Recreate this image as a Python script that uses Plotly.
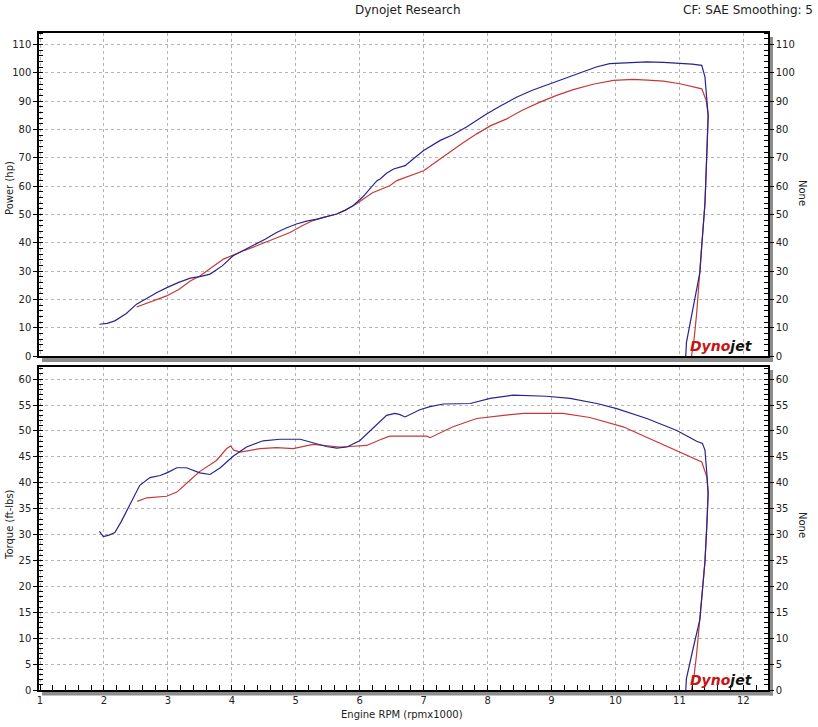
import plotly.graph_objects as go

# ---------------- data ----------------
# Power, run 1 (blue)
rpm_hp_blue = [1.93, 2.05, 2.17, 2.35, 2.51, 2.67, 2.83, 3.00, 3.17, 3.35, 3.50, 3.66, 3.85, 4.02,
               4.18, 4.34, 4.52, 4.70, 4.85, 5.01, 5.17, 5.33, 5.50, 5.64, 5.77, 5.90, 6.05, 6.17,
               6.27, 6.32, 6.42, 6.53, 6.71, 6.85, 7.00, 7.26, 7.45, 7.67, 7.99, 8.20, 8.46, 8.70,
               8.98, 9.20, 9.45, 9.70, 9.91, 10.20, 10.49, 10.75, 11.01, 11.20, 11.35, 11.40, 11.43,
               11.45, 11.43, 11.40, 11.35, 11.32, 11.22, 11.11, 11.10]
hp_blue = [11.2, 11.5, 12.4, 15.0, 18.3, 20.5, 22.4, 24.3, 26.0, 27.5, 28.0, 28.9, 31.8, 35.4,
           37.3, 38.9, 41.2, 43.6, 45.2, 46.6, 47.6, 48.3, 49.2, 50.1, 51.4, 53.1, 56.2, 59.5,
           61.9, 62.5, 64.5, 66.0, 67.2, 69.8, 72.5, 76.1, 78.0, 80.8, 85.5, 88.2, 91.4, 93.8,
           96.1, 98.0, 100.2, 102.0, 103.2, 103.6, 103.8, 103.6, 103.4, 103.0, 102.6, 98.5, 90.2,
           85.0, 72.0, 53.8, 39.0, 29.4, 17.7, 4.7, 0.0]

# Power, run 2 (red)
rpm_hp_red = [2.51, 2.75, 2.98, 3.17, 3.35, 3.50, 3.61, 3.75, 3.87, 4.02, 4.20, 4.39, 4.65, 4.91,
              5.10, 5.27, 5.45, 5.64, 5.80, 5.95, 6.20, 6.47, 6.58, 6.80, 7.00, 7.18, 7.36, 7.60,
              7.83, 8.05, 8.30, 8.55, 8.82, 9.08, 9.34, 9.65, 9.97, 10.28, 10.50, 10.75, 11.01,
              11.20, 11.35, 11.42, 11.45, 11.43, 11.40, 11.35, 11.31, 11.27, 11.23, 11.19]
hp_red = [17.3, 19.4, 21.2, 23.5, 26.5, 28.2, 30.1, 32.3, 34.2, 35.7, 37.3, 38.9, 41.3, 43.6,
          46.0, 47.8, 49.0, 50.1, 51.8, 53.7, 57.6, 60.1, 61.9, 63.6, 65.4, 68.3, 71.3, 75.0,
          78.4, 81.3, 83.7, 86.8, 89.6, 92.0, 94.0, 95.9, 97.3, 97.6, 97.4, 97.0, 96.1,
          95.2, 94.3, 90.2, 85.0, 72.0, 53.8, 39.0, 25.0, 15.0, 6.0, 0.0]

# Torque, run 1 (blue)
rpm_tq_blue = [1.93, 1.99, 2.08, 2.17, 2.27, 2.36, 2.46, 2.56, 2.72, 2.88, 3.00, 3.14, 3.29, 3.40,
               3.50, 3.66, 3.82, 4.02, 4.23, 4.49, 4.75, 5.07, 5.27, 5.48, 5.64, 5.80, 6.00, 6.06,
               6.27, 6.42, 6.55, 6.62, 6.71, 6.94, 7.10, 7.31, 7.73, 8.04, 8.40, 8.65, 8.92, 9.29,
               9.71, 10.02, 10.49, 10.96, 11.27, 11.36, 11.40, 11.43, 11.45, 11.43, 11.40, 11.35,
               11.32, 11.22, 11.11, 11.10]
tq_blue = [30.6, 29.6, 29.9, 30.4, 32.5, 34.6, 37.2, 39.5, 41.0, 41.4, 42.0, 42.9, 42.9, 42.4,
           41.9, 41.6, 42.9, 45.1, 46.9, 48.1, 48.4, 48.4, 47.7, 47.0, 46.7, 46.9, 48.1, 48.8,
           51.4, 53.0, 53.4, 53.2, 52.7, 54.1, 54.7, 55.2, 55.3, 56.3, 56.9, 56.8, 56.7, 56.3,
           55.3, 54.3, 52.4, 50.1, 48.0, 47.6, 46.3, 41.7, 38.0, 32.0, 24.8, 17.8,
           13.6, 8.3, 2.2, 0.0]

# Torque, run 2 (red)
rpm_tq_red = [2.52, 2.67, 2.98, 3.14, 3.32, 3.50, 3.76, 3.92, 3.98, 4.03, 4.13, 4.44, 4.70, 4.96,
              5.27, 5.48, 5.69, 5.85, 6.11, 6.32, 6.47, 7.05, 7.10, 7.46, 7.83, 8.25, 8.56, 9.18,
              9.60, 10.12, 10.59, 11.01, 11.35, 11.43, 11.45, 11.43, 11.40, 11.35, 11.31, 11.27,
              11.23, 11.19]
tq_red = [36.4, 37.1, 37.4, 38.2, 40.2, 42.2, 44.3, 46.6, 47.1, 46.3, 45.9, 46.6, 46.8, 46.6,
          47.4, 47.2, 46.9, 47.0, 47.2, 48.3, 49.0, 49.0, 48.7, 50.8, 52.4, 53.0, 53.4, 53.4,
          52.6, 50.8, 48.2, 45.9, 44.0, 41.1, 38.0, 32.0, 24.8, 17.8, 11.6, 7.0,
          2.8, 0.0]

rpm_ticks = list(range(1, 13))
hp_ticks = list(range(0, 111, 10))
tq_ticks = list(range(0, 61, 5))

# ---------------- styling ----------------
W, H = 818, 727
PL, PR, PT, PB = 39, 768, 33, 690          # plot area in window pixels
ML, MT = PL, PT
MR = W - PR
MB = H - PB
PW = W - ML - MR
PH = H - MT - MB
BLUE = "#26248e"
RED = "#c43a3a"
GRID = "#b4b4b4"
FONT = "DejaVu Sans"
TXT = "#222222"


def px(x):
    return (x - PL) / PW


def py(y):
    return (PB - y) / PH


top_dom = [py(356), 1.0]
bot_dom = [0.0, py(366.7)]
x_range = [0.984, 12.386]

fig = go.Figure()
fig.add_trace(go.Scatter(x=rpm_hp_red, y=hp_red, mode="lines", line=dict(color=RED, width=1.2),
                         xaxis="x2", yaxis="y2", showlegend=False, hoverinfo="skip"))
fig.add_trace(go.Scatter(x=rpm_hp_blue, y=hp_blue, mode="lines", line=dict(color=BLUE, width=1.2),
                         xaxis="x2", yaxis="y2", showlegend=False, hoverinfo="skip"))
fig.add_trace(go.Scatter(x=rpm_tq_red, y=tq_red, mode="lines", line=dict(color=RED, width=1.2),
                         xaxis="x", yaxis="y", showlegend=False, hoverinfo="skip"))
fig.add_trace(go.Scatter(x=rpm_tq_blue, y=tq_blue, mode="lines", line=dict(color=BLUE, width=1.2),
                         xaxis="x", yaxis="y", showlegend=False, hoverinfo="skip"))
# helpers so the right-hand axes are drawn
fig.add_trace(go.Scatter(x=[None], y=[None], xaxis="x", yaxis="y3", showlegend=False, hoverinfo="skip"))
fig.add_trace(go.Scatter(x=[None], y=[None], xaxis="x2", yaxis="y4", showlegend=False, hoverinfo="skip"))

tickfont = dict(family=FONT, size=10, color=TXT)

common_y = dict(showline=True, linecolor="black", linewidth=1.5, ticks="outside", ticklen=4,
                tickcolor="black", tickfont=tickfont, zeroline=False, tick0=0, automargin=False)

fig.update_layout(
    width=W, height=H, margin=dict(l=ML, r=MR, t=MT, b=MB, autoexpand=False),
    paper_bgcolor="white", plot_bgcolor="white",
    font=dict(family=FONT, size=10, color=TXT),
    xaxis=dict(domain=[0, 1], anchor="y", range=x_range, tickmode="array", tickvals=rpm_ticks,
               ticks="inside", ticklen=5, tickcolor="black", tickfont=tickfont,
               showgrid=True, gridcolor=GRID, griddash="dot", gridwidth=1,
               minor=dict(dtick=0.2, tick0=1, ticks="inside", ticklen=5, tickcolor="black", showgrid=False),
               showline=True, linecolor="black", linewidth=1.5, mirror=True, zeroline=False,
               automargin=False),
    xaxis2=dict(domain=[0, 1], anchor="y2", range=x_range, matches="x", tickmode="array",
                tickvals=rpm_ticks, showticklabels=False, ticks="",
                showgrid=True, gridcolor=GRID, griddash="dot", gridwidth=1,
                showline=True, linecolor="black", linewidth=1.5, mirror=True, zeroline=False,
                automargin=False),
    yaxis=dict(domain=bot_dom, anchor="x", range=[0, 62.4], tickmode="array", tickvals=tq_ticks,
               showgrid=True, gridcolor=GRID, griddash="dot", gridwidth=1, mirror=True,
               minor=dict(dtick=1, tick0=0, ticks="inside", ticklen=4, tickcolor="black", showgrid=False),
               **common_y),
    yaxis3=dict(overlaying="y", side="right", anchor="x", range=[0, 62.4], tickmode="array",
                tickvals=tq_ticks, showgrid=False,
                minor=dict(dtick=1, tick0=0, ticks="inside", ticklen=4, tickcolor="black", showgrid=False),
                **common_y),
    yaxis2=dict(domain=top_dom, anchor="x2", range=[0, 114], tickmode="array", tickvals=hp_ticks,
                showgrid=True, gridcolor=GRID, griddash="dot", gridwidth=1, mirror=True,
                minor=dict(dtick=2, tick0=0, ticks="inside", ticklen=4, tickcolor="black", showgrid=False),
                **common_y),
    yaxis4=dict(overlaying="y2", side="right", anchor="x2", range=[0, 114], tickmode="array",
                tickvals=hp_ticks, showgrid=False,
                minor=dict(dtick=2, tick0=0, ticks="inside", ticklen=4, tickcolor="black", showgrid=False),
                **common_y),
)

# 3D-style grey shadow bars
SHADOW = "#8c8c8c"
shapes = []
for (yb0, yb1, yr0) in [(358, 362, 37), (691.5, 695.5, 370)]:
    shapes.append(dict(type="rect", xref="paper", yref="paper", x0=px(42), x1=px(773),
                       y0=py(yb1), y1=py(yb0), fillcolor=SHADOW, line=dict(width=0), layer="below"))
    shapes.append(dict(type="rect", xref="paper", yref="paper", x0=px(769.5), x1=px(773),
                       y0=py(yb1), y1=py(yr0), fillcolor=SHADOW, line=dict(width=0), layer="below"))
fig.update_layout(shapes=shapes)

ann = []


def add_text(text, x, y, size=10, angle=0, xanchor="center", color=TXT):
    ann.append(dict(text=text, x=px(x), y=py(y), xref="paper", yref="paper", showarrow=False,
                    textangle=angle, xanchor=xanchor, yanchor="middle",
                    font=dict(family=FONT, size=size, color=color)))


add_text("Dynojet Research", 408, 10, size=12)
add_text("CF: SAE Smoothing: 5", 815, 10, size=12, xanchor="right")
add_text("Power (hp)", 9, 188, size=10, angle=-90)
add_text("Torque (ft-lbs)", 9, 525, size=10, angle=-90)
add_text("None", 803, 193, size=10, angle=90)
add_text("None", 803, 525, size=10, angle=90)
add_text("Engine RPM (rpmx1000)", 402, 714, size=10)

logo = "<b><i><span style='color:#c81414'>Dyno</span><span style='color:#111111'>jet</span></i></b>"
add_text(logo, 721, 346, size=14)
add_text(logo, 721, 680, size=14)

fig.update_layout(annotations=ann)

# the page's default 8 px body margin would push the figure off the window edge
fig.write_html("out.html", config={"displayModeBar": False},
               post_script="document.body.style.margin='0';")
